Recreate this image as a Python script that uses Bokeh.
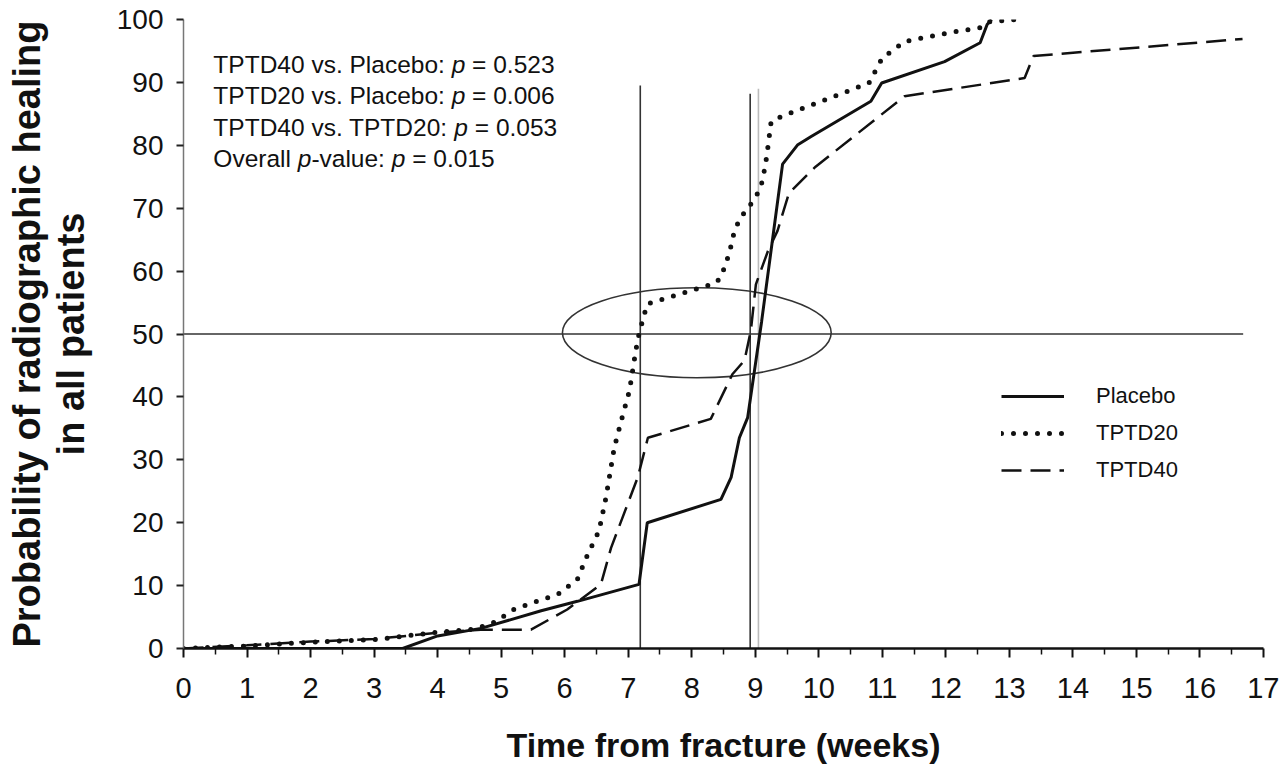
from bokeh.plotting import figure
from bokeh.models import Range1d, FixedTicker, Legend, LegendItem, ColumnDataSource
from bokeh.core.properties import value
from bokeh.embed import file_html
from bokeh.resources import INLINE

# ---------------- data ----------------
weeks_placebo = [0, 3.45, 4.0, 4.68, 5.63, 6.2, 7.17, 7.3, 8.46, 8.62, 8.75, 8.88,
                 9.1, 9.43, 9.67, 9.88, 10.82, 10.99, 11.98, 12.54, 12.65, 12.72]
placebo = [0, 0, 2.0, 3.2, 6.0, 7.5, 10.2, 20.0, 23.7, 27.2, 33.5, 36.7,
           52.0, 77.0, 80.1, 81.4, 87.0, 89.9, 93.3, 96.3, 99.2, 100]

weeks_tptd20 = [0, 1, 2, 3, 3.5, 4, 4.6, 4.9, 5.2, 5.5, 5.89, 6.2, 6.36, 6.54, 6.65,
                6.78, 6.89, 7.02, 7.12, 7.17, 7.25, 7.3, 7.83, 8.15, 8.36, 8.46, 8.59,
                8.67, 8.76, 8.92, 9.04, 9.11, 9.18, 9.25, 9.42, 10.79, 10.9, 11.0,
                11.18, 11.35, 12.05, 12.54, 12.65, 13.12]
tptd20 = [0, 0.4, 1.0, 1.4, 2.0, 2.6, 3.1, 4.2, 6.2, 7.3, 8.6, 11.0, 14.9, 18.7, 24.0,
          31.9, 36.2, 41.0, 47.4, 50.0, 53.0, 54.8, 56.4, 57.4, 58.0, 59.0, 62.8,
          66.3, 68.4, 70.5, 72.4, 74.2, 78.2, 83.8, 84.6, 89.9, 92.0, 93.9,
          95.2, 96.5, 97.9, 98.7, 99.6, 100]

weeks_tptd40 = [0, 1, 2, 3, 4, 4.68, 5.47, 6.04, 6.57, 6.73, 7.15, 7.31, 8.3, 8.64,
                8.83, 8.93, 9.01, 9.2, 9.35, 9.53, 9.95, 11.35, 13.24, 13.38, 16.67]
tptd40 = [0, 0.5, 1.1, 1.5, 2.5, 3.0, 3.0, 6.2, 10.2, 16.0, 27.2, 33.5, 36.5, 43.6,
          45.8, 50.5, 57.9, 63.2, 66.4, 72.4, 76.6, 87.8, 90.7, 94.2, 96.9]

x_ticks = list(range(0, 18))
x_minor_ticks = [0.5, 1.5, 2.5, 3.5, 4.5, 5.5, 6.5, 7.5, 8.5, 9.5, 10.5, 11.5,
                 12.5, 13.5, 14.5, 15.5, 16.5]
y_ticks = [0, 10, 20, 30, 40, 50, 60, 70, 80, 90, 100]

series_names = ["Placebo", "TPTD20", "TPTD40"]

# reference markers (median lines)
ref_x = [7.19, 8.92]
ref_top = [89.5, 88.2]
ref_gray_x = [9.05]
ref_gray_top = [89.0]
median_level = 50
median_line_end = 16.68
ellipse_center = (8.08, 50.2)
ellipse_size = (4.23, 14.3)

ann_lines = [
    [("TPTD40 vs. Placebo: ", "normal"), ("p", "italic"), (" = 0.523", "normal")],
    [("TPTD20 vs. Placebo: ", "normal"), ("p", "italic"), (" = 0.006", "normal")],
    [("TPTD40 vs. TPTD20: ", "normal"), ("p", "italic"), (" = 0.053", "normal")],
    [("Overall ", "normal"), ("p", "italic"), ("-value: ", "normal"), ("p", "italic"),
     (" = 0.015", "normal")],
]
ann_x = 0.47
ann_y = [92.9, 87.9, 82.9, 77.9]

# ---------------- figure ----------------
FONT = "Liberation Sans"
INK = "#111111"

p = figure(frame_width=1080, frame_height=629,
           x_range=Range1d(0, 17), y_range=Range1d(0, 100),
           output_backend="svg", toolbar_location=None,
           min_border_left=183, min_border_top=19, min_border_right=16,
           min_border_bottom=10)
p.outline_line_color = None
p.grid.visible = False
p.background_fill_color = "white"

# reference lines
p.segment(x0=ref_x, y0=[0] * len(ref_x), x1=ref_x, y1=ref_top,
          line_color="#333333", line_width=1.6)
p.segment(x0=ref_gray_x, y0=[0], x1=ref_gray_x, y1=ref_gray_top,
          line_color="#bbbbbb", line_width=1.6)
p.segment(x0=[0], y0=[median_level], x1=[median_line_end], y1=[median_level],
          line_color="#333333", line_width=1.6)
p.ellipse(x=[ellipse_center[0]], y=[ellipse_center[1]],
          width=[ellipse_size[0]], height=[ellipse_size[1]],
          fill_color=None, line_color="#333333", line_width=1.6)

r_pl = p.line(weeks_placebo, placebo, line_color=INK, line_width=3)
r_20 = p.line(weeks_tptd20, tptd20, line_color=INK, line_width=5,
              line_dash="0 12", line_cap="round")
r_40 = p.line(weeks_tptd40, tptd40, line_color=INK, line_width=2.5,
              line_dash="20 9")

legend = Legend(items=[LegendItem(label=series_names[0], renderers=[r_pl]),
                       LegendItem(label=series_names[1], renderers=[r_20]),
                       LegendItem(label=series_names[2], renderers=[r_40])],
                location=(818, 163))
legend.border_line_color = None
legend.background_fill_alpha = 0
legend.padding = 0
legend.margin = 0
legend.glyph_width = 63
legend.glyph_height = 30
legend.label_height = 30
legend.label_standoff = 32
legend.spacing = 7
legend.label_text_font = FONT
legend.label_text_font_size = "22px"
legend.label_text_color = INK
p.add_layout(legend)

# annotation text (p in italics)
ARIAL_W = {' ': 278, '-': 333, '.': 278, ':': 278, '=': 584, 'D': 722, 'O': 778,
           'P': 667, 'T': 611, 'a': 556, 'b': 556, 'c': 500, 'e': 556, 'l': 222,
           'o': 556, 'p': 556, 'r': 333, 's': 500, 'u': 556, 'v': 500}
for d in "0123456789":
    ARIAL_W[d] = 556
ANN_SIZE = 24.5


def w(s):
    return sum(ARIAL_W.get(c, 556) for c in s) * ANN_SIZE / 1000.0


norm = dict(x=[], y=[], text=[], off=[])
ital = dict(x=[], y=[], text=[], off=[])
for line, yy in zip(ann_lines, ann_y):
    off = 0.0
    for txt, style in line:
        lead = len(txt) - len(txt.lstrip(" "))
        core = txt.strip(" ")
        tgt = ital if style == "italic" else norm
        tgt["x"].append(ann_x)
        tgt["y"].append(yy)
        tgt["text"].append(core)
        tgt["off"].append(off + w(" " * lead))
        off += w(txt)

for src, style in ((norm, "normal"), (ital, "italic")):
    p.text(x="x", y="y", text="text", x_offset="off", source=ColumnDataSource(src),
           text_font=value(FONT), text_font_size=value(f"{ANN_SIZE}px"),
           text_font_style=style, text_baseline="alphabetic", text_align="left",
           text_color=INK)

# axes
p.xaxis.ticker = FixedTicker(ticks=x_ticks, minor_ticks=x_minor_ticks)
p.yaxis.ticker = FixedTicker(ticks=y_ticks)
p.xaxis.axis_label = "Time from fracture (weeks)"
p.yaxis.axis_label = "Probability of radiographic healing\nin all patients"

for ax in (p.xaxis[0], p.yaxis[0]):
    ax.axis_label_text_font = FONT
    ax.axis_label_text_font_style = "bold"
    ax.axis_label_text_color = INK
    ax.major_label_text_font = FONT
    ax.major_label_text_color = INK
    ax.major_tick_in = 0
    ax.minor_tick_in = 0

xa = p.xaxis[0]
xa.axis_line_color = INK
xa.axis_line_width = 2.5
xa.major_tick_out = 9
xa.minor_tick_out = 6
xa.major_tick_line_width = 2
xa.minor_tick_line_width = 1.5
xa.major_tick_line_color = INK
xa.minor_tick_line_color = INK
xa.major_label_text_font_size = "29px"
xa.major_label_standoff = 20
xa.axis_label_text_font_size = "34px"
xa.axis_label_standoff = 25

ya = p.yaxis[0]
ya.axis_line_color = "#777777"
ya.axis_line_width = 1.5
ya.major_tick_out = 7
ya.major_tick_line_width = 2
ya.major_tick_line_color = "#222222"
ya.minor_tick_line_color = None
ya.major_label_text_font_size = "28px"
ya.major_label_standoff = 13
ya.axis_label_text_font_size = "38px"
ya.axis_label_text_line_height = 1.05
ya.axis_label_standoff = 22

open("out.html", "w").write(file_html(p, INLINE))
